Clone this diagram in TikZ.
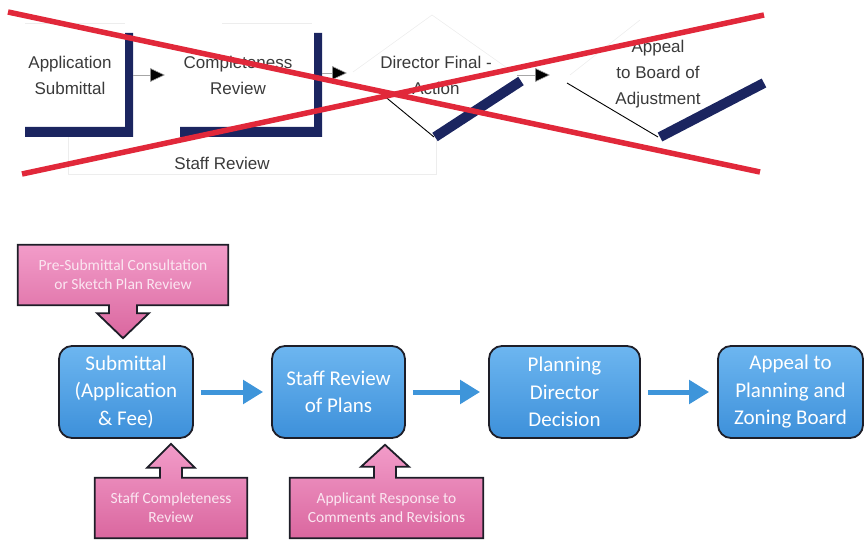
\documentclass[tikz,border=0pt]{standalone}
\usepackage{fontspec}
\setmainfont{Liberation Sans}
\newfontfamily\calib{Carlito}
\usetikzlibrary{arrows.meta,calc,backgrounds}
\definecolor{navyc}{HTML}{1B2560}
\definecolor{oldgray}{HTML}{3A3A3A}
\definecolor{redx}{HTML}{E1283A}
\definecolor{blueT}{HTML}{6DB6F0}
\definecolor{blueB}{HTML}{3D90DA}
\definecolor{blueA}{HTML}{3E95DA}
\definecolor{edgec}{HTML}{1E1E28}
\definecolor{pinkT}{HTML}{F29CC9}
\definecolor{pinkB}{HTML}{DA679F}
\definecolor{pinktext}{HTML}{FBE6F1}
\begin{document}
\begin{tikzpicture}[x=1pt,y=-1pt,
  faint/.style={draw=gray!14, line width=0.6pt},
  navybar/.style={fill=navyc, draw=none},
  oldtxt/.style={font=\fontsize{17}{26}\selectfont, text=oldgray, align=center, inner sep=0pt},
  oldarrow/.style={draw=gray!70, line width=0.6pt, -{Triangle[length=15pt,width=14pt,fill=black]}},
  crossline/.style={draw=redx, line width=5.5pt},
  bluebox/.style={draw=edgec, line width=1.8pt, rounded corners=13pt, top color=blueT, bottom color=blueB,
    text=white, font=\calib\fontsize{21}{27.5}\selectfont, align=center, inner sep=0pt,
    minimum height=92pt},
  pinkbox/.style={text=pinktext, font=\calib\fontsize{15.5}{19}\selectfont, align=center, inner sep=0pt,
    minimum height=60pt},
  pinkshape/.style={draw=edgec, line width=1.8pt, top color=pinkT, bottom color=pinkB, line join=miter},
  flowarrow/.style={draw=blueA, line width=5pt, -{Triangle[length=20pt,width=23pt]},
    shorten <=7pt, shorten >=8pt}
]
\useasboundingbox (0,0) rectangle (865,540);

% ---------- old (crossed-out) diagram ----------
\draw[faint] (25,23) -- (125,23);
\draw[faint] (222,23) -- (312,23);
\draw[faint] (68,137) -- (68,174) -- (436,174) -- (436,140);
\draw[faint] (353,72) -- (432,15) -- (510,70);
\draw[faint] (570,75) -- (640,20);

\fill[navybar] (25,127) -- (125,127) -- (125,33) -- (133,33) -- (133,137) -- (25,137) -- cycle;
\fill[navybar] (180,127) -- (314,127) -- (314,33) -- (322,33) -- (322,137) -- (180,137) -- cycle;

\draw[line width=0.9pt, black] (377,90) -- (434,137);
\draw[line width=10pt, navyc] (435,137) -- (521,81);
\draw[line width=0.9pt, black] (567,83) -- (658,137);
\draw[line width=10pt, navyc] (660,137) -- (764,83);

\node[oldtxt] (app) at (70,75) {Application\\Submittal};
\node[oldtxt] (comp) at (238,75) {Completeness\\Review};
\node[oldtxt] (dir) at (436,75) {Director Final -\\Action};
\node[oldtxt] (apb) at (658,74) {Appeal\\to Board of\\Adjustment};
\node[oldtxt] (sr) at (222,163) {Staff Review};

\coordinate (a1s) at (133,75);  \coordinate (a1e) at (165,75);
\coordinate (a2s) at (322,73);  \coordinate (a2e) at (347,73);
\coordinate (a3s) at (517,75);  \coordinate (a3e) at (550,75);
\draw[oldarrow] (a1s) -- (a1e);
\draw[oldarrow] (a2s) -- (a2e);
\draw[oldarrow] (a3s) -- (a3e);

\coordinate (x1a) at (8,12);   \coordinate (x1b) at (760,172);
\coordinate (x2a) at (22,174); \coordinate (x2b) at (764,15);
\draw[crossline] (x1a) -- (x1b);
\draw[crossline] (x2a) -- (x2b);

% ---------- new diagram ----------
\node[bluebox, minimum width=134pt] (sub) at (126,392) {Submittal\\(Application\\\& Fee)};
\node[bluebox, minimum width=133pt] (staff) at (338.5,392) {Staff Review\\of Plans};
\node[bluebox, minimum width=151pt] (plan) at (564.5,392) {Planning\\Director\\Decision};
\node[bluebox, minimum width=145pt] (appeal) at (790.5,392) {Appeal to\\Planning and\\Zoning Board};

\draw[flowarrow] (sub.east) -- (staff.west);
\draw[flowarrow] (staff.east) -- (plan.west);
\draw[flowarrow] (plan.east) -- (appeal.west);

\node[pinkbox, minimum width=210pt] (pre) at (123,275) {Pre-Submittal Consultation\\or Sketch Plan Review};
\node[pinkbox, minimum width=152pt] (scomp) at (171,508) {Staff Completeness\\Review};
\node[pinkbox, minimum width=193pt] (resp) at (386.5,508) {Applicant Response to\\Comments and Revisions};

\begin{scope}[on background layer]
\path[pinkshape] (pre.north west) -- (pre.north east) -- (pre.south east)
  -- ($(pre.south)+(14,0)$) -- ($(pre.south)+(14,8)$) -- ($(pre.south)+(26,8)$)
  -- ($(pre.south)+(0,33)$) -- ($(pre.south)+(-26,8)$) -- ($(pre.south)+(-14,8)$)
  -- ($(pre.south)+(-14,0)$) -- (pre.south west) -- cycle;
\path[pinkshape] (scomp.south west) -- (scomp.north west)
  -- ($(scomp.north)+(-11,0)$) -- ($(scomp.north)+(-11,-10)$) -- ($(scomp.north)+(-24,-10)$)
  -- ($(scomp.north)+(0,-34)$) -- ($(scomp.north)+(24,-10)$) -- ($(scomp.north)+(11,-10)$)
  -- ($(scomp.north)+(11,0)$) -- (scomp.north east) -- (scomp.south east) -- cycle;
\path[pinkshape] (resp.south west) -- (resp.north west)
  -- ($(resp.north)+(-12.5,0)$) -- ($(resp.north)+(-12.5,-11)$) -- ($(resp.north)+(-25.5,-11)$)
  -- ($(resp.north)+(-1.5,-33)$) -- ($(resp.north)+(22.5,-11)$) -- ($(resp.north)+(9.5,-11)$)
  -- ($(resp.north)+(9.5,0)$) -- (resp.north east) -- (resp.south east) -- cycle;
\end{scope}
\end{tikzpicture}
\end{document}
